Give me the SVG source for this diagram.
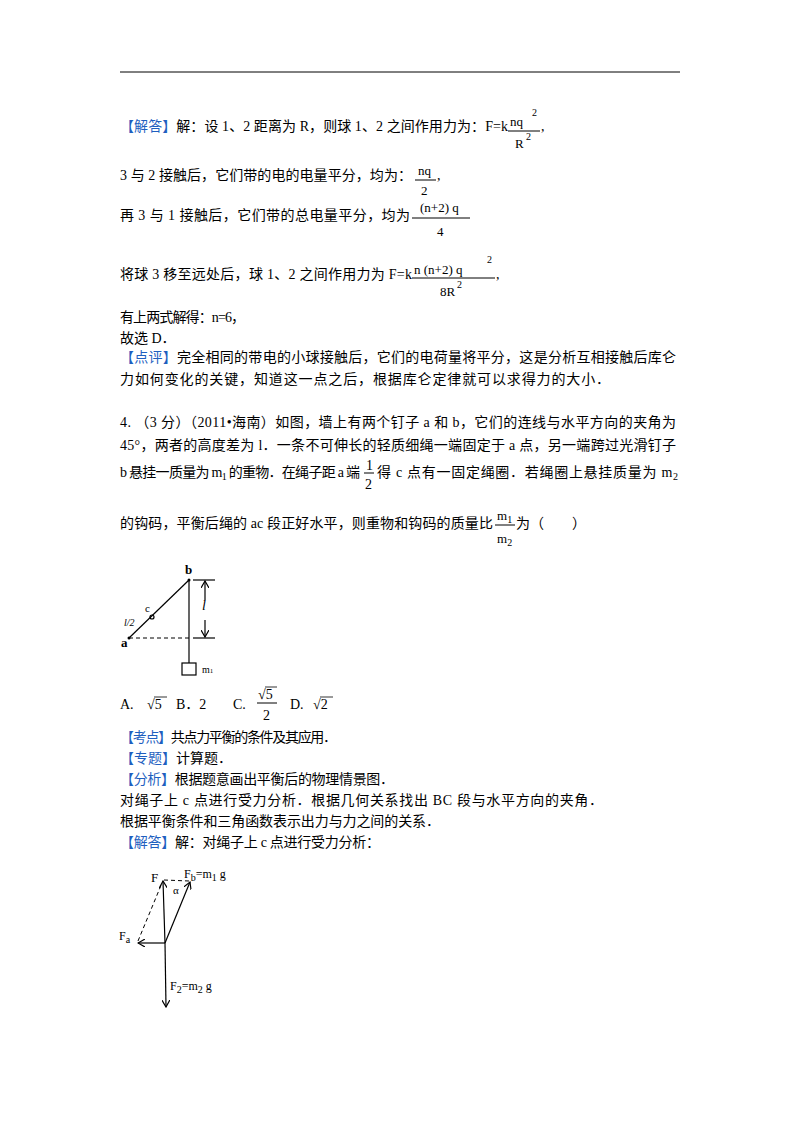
<svg xmlns="http://www.w3.org/2000/svg" width="800" height="1132" viewBox="0 0 800 1132">
<style>
text{font-family:"Liberation Serif","Noto Sans CJK SC",serif;font-size:14px;fill:#000}
.b{fill:#1f5fbf}
.s{font-size:10px}
.l{stroke:#000;stroke-width:1.2;fill:none}
.d{stroke:#000;stroke-width:1;stroke-dasharray:4,3;fill:none}
</style>
<defs><marker id="ar" markerWidth="8" markerHeight="8" refX="7" refY="4" orient="auto" markerUnits="userSpaceOnUse"><path d="M0,0 L7,4 L0,8" fill="none" stroke="#000" stroke-width="1.2"/></marker></defs>
<rect width="800" height="1132" fill="#fff"/>
<line x1="120" y1="72" x2="680" y2="72" stroke="#000" stroke-width="1"/>
<g id="text">
<text x="120" y="131" textLength="388" lengthAdjust="spacing"><tspan class="b">【解答】</tspan>解：设 1、2 距离为 R，则球 1、2 之间作用力为：F=k</text>
<text x="510" y="126" style="font-size:13px">nq</text><line x1="508" y1="131" x2="540" y2="131" stroke="#000"/><text x="532" y="116" class="s">2</text><text x="515" y="148" style="font-size:13px">R</text><text x="526" y="140" class="s">2</text><text x="541" y="131">,</text>
<text x="120" y="180" textLength="292" lengthAdjust="spacing">3 与 2 接触后，它们带的电的电量平分，均为：</text>
<text x="418" y="175" style="font-size:13px">nq</text><line x1="415" y1="180" x2="436" y2="180" stroke="#000"/><text x="421" y="195" style="font-size:13px">2</text><text x="437" y="180">,</text>
<text x="120" y="220" textLength="290" lengthAdjust="spacing">再 3 与 1 接触后，它们带的总电量平分，均为</text>
<text x="420" y="212" style="font-size:13px">(n+2) q</text><line x1="412" y1="218" x2="470" y2="218" stroke="#000"/><text x="437" y="236" style="font-size:13px">4</text>
<text x="120" y="279" textLength="292" lengthAdjust="spacing">将球 3 移至远处后，球 1、2 之间作用力为 F=k</text>
<text x="414" y="274" style="font-size:13px">n (n+2) q</text><line x1="412" y1="278" x2="495" y2="278" stroke="#000"/><text x="487" y="263" class="s">2</text><text x="440" y="296" style="font-size:13px">8R</text><text x="457" y="288" class="s">2</text><text x="496" y="279">,</text>
<text x="120" y="322" textLength="125" lengthAdjust="spacing">有上两式解得：n=6，</text>
<text x="120" y="343">故选 D．</text>
<text x="120" y="362" textLength="556" lengthAdjust="spacing"><tspan class="b">【点评】</tspan>完全相同的带电的小球接触后，它们的电荷量将平分，这是分析互相接触后库仑</text>
<text x="120" y="384" textLength="490" lengthAdjust="spacing">力如何变化的关键，知道这一点之后，根据库仑定律就可以求得力的大小．</text>
<text x="120" y="427" textLength="556" lengthAdjust="spacing">4.  （3 分）（2011•海南）如图，墙上有两个钉子 a 和 b，它们的连线与水平方向的夹角为</text>
<text x="120" y="450" textLength="556" lengthAdjust="spacing">45°，两者的高度差为 l．一条不可伸长的轻质细绳一端固定于 a 点，另一端跨过光滑钉子</text>
<text x="120" y="477" textLength="240" lengthAdjust="spacing">b 悬挂一质量为 m<tspan class="s" dy="3">1</tspan><tspan dy="-3"> 的重物．在绳子距 a 端</tspan></text>
<text x="366" y="470">1</text><line x1="364" y1="473" x2="374" y2="473" stroke="#000"/><text x="365" y="489">2</text>
<text x="377" y="477" textLength="301" lengthAdjust="spacing">得 c 点有一固定绳圈．若绳圈上悬挂质量为 m<tspan class="s" dy="3">2</tspan></text>
<text x="120" y="528" textLength="373" lengthAdjust="spacing">的钩码，平衡后绳的 ac 段正好水平，则重物和钩码的质量比</text>
<text x="497" y="520" style="font-size:13px">m<tspan class="s" dy="3">1</tspan></text><line x1="495" y1="525" x2="515" y2="525" stroke="#000"/><text x="497" y="543" style="font-size:13px">m<tspan class="s" dy="3">2</tspan></text>
<text x="516" y="528">为（　　）</text>
<text x="120" y="709">A.</text><text x="147" y="709">√5</text><line x1="154" y1="697" x2="167" y2="697" stroke="#000" stroke-width="0.8"/>
<text x="176" y="709">B．2</text>
<text x="233" y="709">C.</text><text x="258" y="699">√5</text><line x1="265" y1="687" x2="277" y2="687" stroke="#000" stroke-width="0.8"/><line x1="257" y1="703" x2="277" y2="703" stroke="#000"/><text x="263" y="720">2</text>
<text x="290" y="709">D.</text><text x="313" y="709">√2</text><line x1="320" y1="697" x2="333" y2="697" stroke="#000" stroke-width="0.8"/>
<text x="120" y="742" textLength="217" lengthAdjust="spacing"><tspan class="b">【考点】</tspan>共点力平衡的条件及其应用．</text>
<text x="120" y="763"><tspan class="b">【专题】</tspan>计算题．</text>
<text x="120" y="784" textLength="274" lengthAdjust="spacing"><tspan class="b">【分析】</tspan>根据题意画出平衡后的物理情景图．</text>
<text x="120" y="805" textLength="483" lengthAdjust="spacing">对绳子上 c 点进行受力分析．根据几何关系找出 BC 段与水平方向的夹角．</text>
<text x="120" y="826" textLength="320" lengthAdjust="spacing">根据平衡条件和三角函数表示出力与力之间的关系．</text>
<text x="120" y="847" textLength="260" lengthAdjust="spacing"><tspan class="b">【解答】</tspan>解：对绳子上 c 点进行受力分析：</text>
</g>
<g id="fig1">
<line class="l" x1="129" y1="638" x2="189" y2="580"/>
<line class="l" x1="189" y1="580" x2="189" y2="663"/>
<line class="d" x1="129" y1="638" x2="190" y2="638"/>
<line class="l" x1="193" y1="580" x2="215" y2="580"/>
<line class="l" x1="193" y1="638" x2="215" y2="638"/>
<line class="l" x1="205" y1="600" x2="205" y2="581" marker-end="url(#ar)"/>
<line class="l" x1="205" y1="620" x2="205" y2="637" marker-end="url(#ar)"/>
<rect x="182" y="663" width="14" height="12" class="l"/>
<circle cx="152" cy="617" r="2" class="l"/>
<circle cx="129" cy="638" r="1.5" fill="#000"/>
<circle cx="189" cy="580" r="1.5" fill="#000"/>
<text x="185" y="574" style="font-weight:bold;font-size:13px">b</text>
<text x="121" y="647" style="font-weight:bold;font-size:13px">a</text>
<text x="145" y="612" style="font-size:11px">c</text>
<text x="124" y="626" style="font-size:10px;font-style:italic">l/2</text>
<text x="202" y="610" style="font-style:italic">l</text>
<text x="202" y="673" class="s">m<tspan style="font-size:7px">1</tspan></text>
</g>
<g id="connectors">
<line class="l" x1="165" y1="943" x2="163" y2="881" marker-end="url(#ar)"/>
<line class="l" x1="165" y1="943" x2="190" y2="882" marker-end="url(#ar)"/>
<line class="l" x1="165" y1="943" x2="138" y2="943" marker-end="url(#ar)"/>
<line class="l" x1="165" y1="943" x2="166" y2="1007" marker-end="url(#ar)"/>
<line class="d" x1="138" y1="941" x2="162" y2="883"/>
<line class="d" x1="164" y1="880" x2="189" y2="881"/>
</g>
<g id="fig2labels">
<text x="151" y="882" style="font-size:13px">F</text>
<text x="184" y="878" style="font-size:12px">F<tspan class="s" dy="3">b</tspan><tspan dy="-3">=m</tspan><tspan class="s" dy="3">1</tspan><tspan dy="-3"> g</tspan></text>
<text x="173" y="894" style="font-size:11px">α</text>
<text x="119" y="940" style="font-size:12px">F<tspan class="s" dy="3">a</tspan></text>
<text x="170" y="990" style="font-size:12px">F<tspan class="s" dy="3">2</tspan><tspan dy="-3">=m</tspan><tspan class="s" dy="3">2</tspan><tspan dy="-3"> g</tspan></text>
</g>
</svg>
